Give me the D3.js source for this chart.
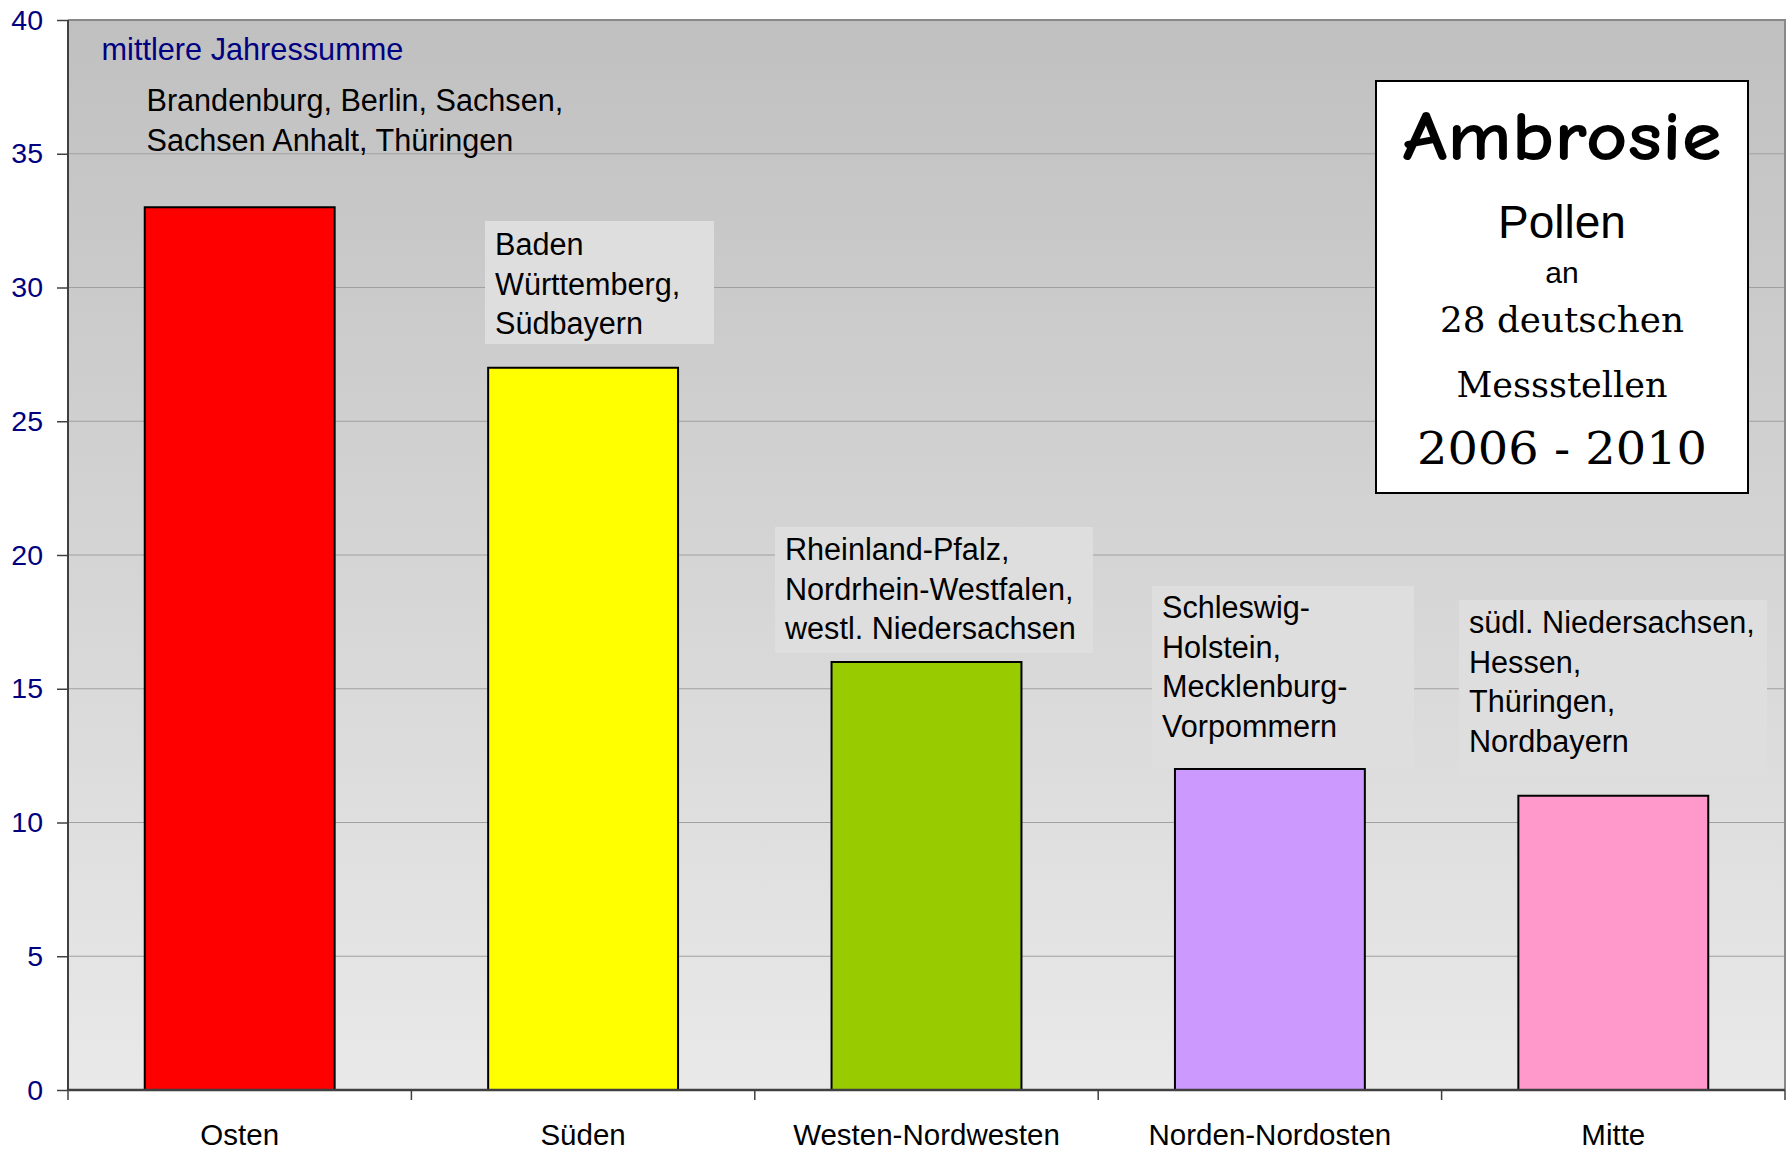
<!DOCTYPE html>
<html>
<head>
<meta charset="utf-8">
<script src="https://cdn.jsdelivr.net/npm/d3@7/dist/d3.min.js"></script>
<style>
  html, body { margin: 0; padding: 0; background: #ffffff; }
  svg { display: block; }
</style>
</head>
<body>
<svg id="chart" width="1790" height="1155"></svg>
<script>
// ---- data ----
const categories = ["Osten", "Süden", "Westen-Nordwesten", "Norden-Nordosten", "Mitte"];
const values = [33, 27, 16, 12, 11];
const barColors = ["#ff0000", "#ffff00", "#99cc00", "#cc99ff", "#ff99cc"];
const yTickValues = [0, 5, 10, 15, 20, 25, 30, 35, 40];
const regionTexts = [
  ["Brandenburg, Berlin, Sachsen,", "Sachsen Anhalt, Thüringen"],
  ["Baden", "Württemberg,", "Südbayern"],
  ["Rheinland-Pfalz,", "Nordrhein-Westfalen,", "westl. Niedersachsen"],
  ["Schleswig-", "Holstein,", "Mecklenburg-", "Vorpommern"],
  ["südl. Niedersachsen,", "Hessen,", "Thüringen,", "Nordbayern"]
];
const unitLabel = "mittlere Jahressumme";
const titleLines = ["Ambrosie", "Pollen", "an", "28 deutschen", "Messstellen", "2006 - 2010"];

// ---- layout ----
const svg = d3.select("#chart");
const plot = { left: 68, right: 1785, top: 20, bottom: 1090 };
const font = "Arial, 'Liberation Sans', Helvetica, sans-serif";

const x = d3.scaleBand().domain(categories).range([plot.left, plot.right])
  .paddingInner(0.447).paddingOuter(0.2235);
const y = d3.scaleLinear().domain([0, 40]).range([plot.bottom, plot.top]);

// background gradient
const defs = svg.append("defs");
const grad = defs.append("linearGradient").attr("id", "bg")
  .attr("x1", 0).attr("y1", 0).attr("x2", 0).attr("y2", 1);
grad.append("stop").attr("offset", "0%").attr("stop-color", "#c0c0c0");
grad.append("stop").attr("offset", "100%").attr("stop-color", "#e9e9e9");

svg.append("rect")
  .attr("x", plot.left).attr("y", plot.top)
  .attr("width", plot.right - plot.left).attr("height", plot.bottom - plot.top)
  .attr("fill", "url(#bg)");

// gridlines
svg.append("g").selectAll("line").data(yTickValues.filter(v => v > 0 && v < 40)).join("line")
  .attr("x1", plot.left).attr("x2", plot.right)
  .attr("y1", d => y(d)).attr("y2", d => y(d))
  .attr("stroke", "#a0a0a0").attr("stroke-width", 1);

// plot border top/right
svg.append("path")
  .attr("d", `M${plot.left},${plot.top}H${plot.right}V${plot.bottom}`)
  .attr("fill", "none").attr("stroke", "#888888").attr("stroke-width", 2);

// annotation boxes (text boxes)
const boxes = [
  null,
  { x: 485, y: 221, w: 229, h: 123 },
  { x: 775, y: 527, w: 318, h: 126 },
  { x: 1152, y: 586, w: 262, h: 182 },
  { x: 1459, y: 600, w: 308, h: 176 }
];
const textPos = [
  { x: 146.5, y: 111 },
  { x: 495, y: 255 },
  { x: 785, y: 560 },
  { x: 1162, y: 618 },
  { x: 1469, y: 633 }
];
const lineH = 39.7;

const annG = svg.append("g");
boxes.forEach((b, i) => {
  if (b) {
    annG.append("rect").attr("x", b.x).attr("y", b.y).attr("width", b.w).attr("height", b.h)
      .attr("fill", "#dedede");
  }
});

// bars
svg.append("g").selectAll("rect").data(categories).join("rect")
  .attr("x", d => x(d))
  .attr("y", (d, i) => y(values[i]))
  .attr("width", x.bandwidth())
  .attr("height", (d, i) => y(0) - y(values[i]))
  .attr("fill", (d, i) => barColors[i])
  .attr("stroke", "#000000").attr("stroke-width", 2);

// annotation texts
regionTexts.forEach((lines, i) => {
  const t = annG.append("text")
    .attr("font-family", font).attr("font-size", 30.6).attr("fill", "#000000");
  lines.forEach((ln, j) => {
    t.append("tspan").attr("x", textPos[i].x).attr("y", textPos[i].y + j * lineH).text(ln);
  });
});

// unit label
svg.append("text").attr("x", 101.5).attr("y", 60)
  .attr("font-family", font).attr("font-size", 30.7).attr("fill", "#000080")
  .text(unitLabel);

// y axis
const yAxis = d3.axisLeft(y).tickValues(yTickValues).tickSizeInner(11).tickSizeOuter(0).tickPadding(14);
const yg = svg.append("g").attr("transform", `translate(${plot.left},0)`).call(yAxis);
yg.select(".domain").remove();
yg.selectAll(".tick line").attr("stroke", "#404040").attr("stroke-width", 1.5);
yg.selectAll(".tick text").attr("font-family", font).attr("font-size", 28.5).attr("fill", "#000080");
svg.append("line").attr("x1", plot.left).attr("x2", plot.left)
  .attr("y1", plot.top).attr("y2", plot.bottom)
  .attr("stroke", "#404040").attr("stroke-width", 2);

// x axis
svg.append("line").attr("x1", plot.left).attr("x2", plot.right)
  .attr("y1", plot.bottom).attr("y2", plot.bottom)
  .attr("stroke", "#404040").attr("stroke-width", 2.5);
const step = x.step();
const boundaries = categories.map(c => x(c) - step * x.paddingOuter()).concat([plot.right]);
svg.append("g").selectAll("line").data(boundaries).join("line")
  .attr("x1", d => d).attr("x2", d => d)
  .attr("y1", plot.bottom).attr("y2", plot.bottom + 10)
  .attr("stroke", "#404040").attr("stroke-width", 1.5);
svg.append("g").selectAll("text").data(categories).join("text")
  .attr("x", d => x(d) + x.bandwidth() / 2).attr("y", 1145)
  .attr("text-anchor", "middle")
  .attr("font-family", font).attr("font-size", 29.5).attr("fill", "#000000")
  .text(d => d);

// title box
const tb = { x: 1376, y: 81, w: 372, h: 412 };
svg.append("rect").attr("x", tb.x).attr("y", tb.y).attr("width", tb.w).attr("height", tb.h)
  .attr("fill", "#ffffff").attr("stroke", "#000000").attr("stroke-width", 2);
const cx = tb.x + tb.w / 2;
const serif = "Georgia, 'DejaVu Serif', serif";
const titleStyle = [
  { y: 160, size: 70, fam: "'Comic Sans MS', 'Comic Neue', 'DejaVu Sans', sans-serif", weight: "bold", len: 319 },
  { y: 238, size: 46, fam: font, weight: "normal", len: null },
  { y: 282.5, size: 30, fam: font, weight: "normal", len: null },
  { y: 331.5, size: 36, fam: serif, weight: "normal", len: 244 },
  { y: 396.5, size: 36, fam: serif, weight: "normal", len: 211 },
  { y: 464, size: 45, fam: serif, weight: "normal", len: 290 }
];
titleLines.forEach((ln, i) => {
  const s = titleStyle[i];
  const t = svg.append("text").attr("x", cx).attr("y", s.y)
    .attr("text-anchor", "middle")
    .attr("font-family", s.fam).attr("font-size", s.size).attr("font-weight", s.weight)
    .attr("fill", "#000000").text(ln);
  if (s.len) t.attr("textLength", s.len).attr("lengthAdjust", "spacingAndGlyphs");
});
</script>
</body>
</html>
